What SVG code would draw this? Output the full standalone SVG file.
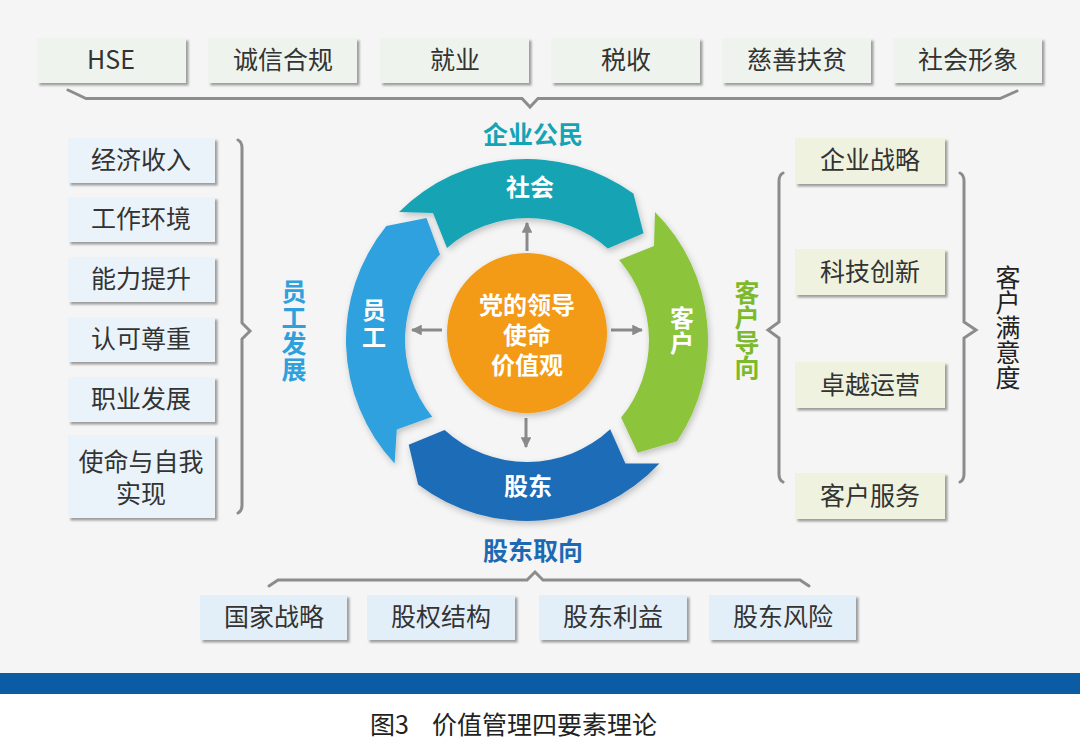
<svg xmlns="http://www.w3.org/2000/svg" width="1080" height="743" viewBox="0 0 1080 743">
<defs>
<filter id="sh" x="-10%" y="-10%" width="125%" height="135%">
<feDropShadow dx="2.5" dy="2.5" stdDeviation="1.2" flood-color="#555" flood-opacity="0.55"/>
</filter>
<filter id="rs" x="-15%" y="-15%" width="130%" height="130%">
<feDropShadow dx="1.5" dy="3" stdDeviation="3" flood-color="#000" flood-opacity="0.22"/>
</filter>
<marker id="ah" viewBox="0 0 10 10" refX="9" refY="5" markerWidth="3.6" markerHeight="3.6" orient="auto" markerUnits="strokeWidth">
<path d="M0,0 L10,5 L0,10 Z" fill="#8a8a8a"/>
</marker>
<style>
text{font-family:"Noto Sans CJK SC","Noto Sans",sans-serif;}
.t{font-size:25px;fill:#333;text-anchor:middle;}
.g{fill:#eef3ee;filter:url(#sh);}
.lb{fill:#eaf3fa;filter:url(#sh);}
.rb{fill:#eff2de;filter:url(#sh);}
.bb{fill:#e3eff8;filter:url(#sh);}
.br{fill:none;stroke:#8c8c8c;stroke-width:3;stroke-linejoin:miter;stroke-linecap:round;}
.w{font-size:24px;font-weight:700;fill:#fff;text-anchor:middle;}
.cat{font-size:25px;font-weight:700;text-anchor:middle;}
.v{writing-mode:vertical-rl;text-anchor:middle;}
.ar{stroke:#8a8a8a;stroke-width:3;fill:none;marker-end:url(#ah);}
</style>
</defs>
<rect x="0" y="0" width="1080" height="673" fill="#f5f5f5"/>
<rect x="0" y="694" width="1080" height="49" fill="#ffffff"/>
<rect x="0" y="673" width="1080" height="21" fill="#0c5ca5"/>

<g id="top-boxes">
<g id="n-hse"><rect class="g" x="37" y="38" width="149" height="45"/><text class="t" x="111" y="69">HSE</text></g>
<g id="n-chengxin"><rect class="g" x="208" y="38" width="149" height="45"/><text class="t" x="283" y="69">诚信合规</text></g>
<g id="n-jiuye"><rect class="g" x="380" y="38" width="149" height="45"/><text class="t" x="455" y="69">就业</text></g>
<g id="n-shuishou"><rect class="g" x="551" y="38" width="149" height="45"/><text class="t" x="626" y="69">税收</text></g>
<g id="n-cishan"><rect class="g" x="722" y="38" width="149" height="45"/><text class="t" x="797" y="69">慈善扶贫</text></g>
<g id="n-shehuixx"><rect class="g" x="893" y="38" width="149" height="45"/><text class="t" x="968" y="69">社会形象</text></g>
</g>

<g id="left-boxes">
<g id="n-jingji"><rect class="lb" x="68" y="138" width="147" height="45"/><text class="t" x="141" y="169">经济收入</text></g>
<g id="n-gongzuo"><rect class="lb" x="68" y="197" width="147" height="45"/><text class="t" x="141" y="228">工作环境</text></g>
<g id="n-nengli"><rect class="lb" x="68" y="257" width="147" height="45"/><text class="t" x="141" y="288">能力提升</text></g>
<g id="n-renke"><rect class="lb" x="68" y="317" width="147" height="45"/><text class="t" x="141" y="348">认可尊重</text></g>
<g id="n-zhiye"><rect class="lb" x="68" y="377" width="147" height="45"/><text class="t" x="141" y="408">职业发展</text></g>
<g id="n-shiming"><rect class="lb" x="68" y="435" width="147" height="83"/><text class="t"><tspan x="141" y="471">使命与自我</tspan><tspan x="141" y="503">实现</tspan></text></g>
</g>

<g id="right-boxes">
<g id="n-qiye"><rect class="rb" x="795" y="138" width="150" height="46"/><text class="t" x="870" y="169">企业战略</text></g>
<g id="n-keji"><rect class="rb" x="795" y="249" width="150" height="46"/><text class="t" x="870" y="281">科技创新</text></g>
<g id="n-zhuoyue"><rect class="rb" x="795" y="362" width="150" height="46"/><text class="t" x="870" y="394">卓越运营</text></g>
<g id="n-kehufw"><rect class="rb" x="795" y="473" width="150" height="46"/><text class="t" x="870" y="505">客户服务</text></g>
</g>

<g id="bottom-boxes">
<g id="n-guojia"><rect class="bb" x="200" y="595" width="147" height="45"/><text class="t" x="274" y="626">国家战略</text></g>
<g id="n-guquan"><rect class="bb" x="367" y="595" width="148" height="45"/><text class="t" x="441" y="626">股权结构</text></g>
<g id="n-liyi"><rect class="bb" x="539" y="595" width="148" height="45"/><text class="t" x="613" y="626">股东利益</text></g>
<g id="n-fengxian"><rect class="bb" x="709" y="595" width="147" height="45"/><text class="t" x="783" y="626">股东风险</text></g>
</g>

<g id="connectors">
<path class="br" d="M68,90 L86,98.5 L522,98.5 L530,107 L538,98.5 L1000,98.5 L1017,91"/>
<path class="br" d="M238,140 Q242,142 242,148 L242,323 L250,331 L242,339 L242,505 Q242,511 238,513"/>
<path class="br" d="M783,173 Q779,175 779,181 L779,322 L768,330 L779,338 L779,474 Q779,480 783,482"/>
<path class="br" d="M960,173 Q964,175 964,181 L964,322 L976,330 L964,338 L964,474 Q964,480 960,482"/>
<path class="br" d="M269,586 L278,580 L527,580 L535,572 L543,580 L800,580 L809,586"/>
<line class="ar" x1="527" y1="251" x2="527" y2="223"/>
<line class="ar" x1="442" y1="330" x2="412" y2="330"/>
<line class="ar" x1="611" y1="330" x2="642" y2="330"/>
<line class="ar" x1="526" y1="418" x2="526" y2="447"/>
</g>

<g id="ring-shehui">
<path filter="url(#rs)" fill="#13a4b5" d="M399,212 A181,181 0 0 1 633.4,193.6 L643.5,233.3 L607.8,248.6 A122,122 0 0 0 447,247.9 L433,213 Z"/>
<text class="w" x="530" y="196">社会</text>
</g>
<g id="ring-kehu">
<path filter="url(#rs)" fill="#8cc43a" d="M655,212 A181,181 0 0 1 677,441.2 L637.7,452.7 L621.1,417.6 A122,122 0 0 0 619.1,260 L654,246 Z"/>
<text class="w v" x="682" y="331" style="letter-spacing:1px">客户</text>
</g>
<g id="ring-gudong">
<path filter="url(#rs)" fill="#1c6cb7" d="M659.4,463.4 A181,181 0 0 1 418.1,484.5 L408.7,444.7 L444.6,430 A122,122 0 0 0 610.2,429.2 L625.4,463.6 Z"/>
<text class="w" x="528" y="495">股东</text>
</g>
<g id="ring-yuangong">
<path filter="url(#rs)" fill="#2fa1de" d="M394.6,463.4 A181,181 0 0 1 386.3,226.1 L426.5,218.1 L440,254.5 A122,122 0 0 0 432.2,416.8 L396.8,429.5 Z"/>
<text class="w v" x="374" y="325" style="letter-spacing:3px">员工</text>
</g>
<g id="center">
<circle cx="527" cy="333" r="80" fill="#f39a12" filter="url(#rs)"/>
<text class="w"><tspan x="527" y="314">党的领导</tspan><tspan x="527" y="344">使命</tspan><tspan x="527" y="374">价值观</tspan></text>
</g>

<g id="label-qiyegongmin"><text class="cat" fill="#15a3b6" x="533" y="144">企业公民</text></g>
<g id="label-gudongquxiang"><text class="cat" fill="#1b6ab3" x="533" y="560">股东取向</text></g>
<g id="label-yuangongfazhan"><text class="cat v" fill="#2ea0dc" x="294" y="331" style="letter-spacing:1px">员工发展</text></g>
<g id="label-kehudaoxiang"><text class="cat v" fill="#7dba2b" x="747" y="330" style="letter-spacing:0px">客户导向</text></g>
<g id="label-kehumanyidu"><text class="v" font-size="25" fill="#222" x="1008" y="327">客户满意度</text></g>

<g id="caption"><text font-size="25" fill="#222"><tspan x="370" y="734">图3</tspan><tspan x="432" y="734">价值管理四要素理论</tspan></text></g>
</svg>
